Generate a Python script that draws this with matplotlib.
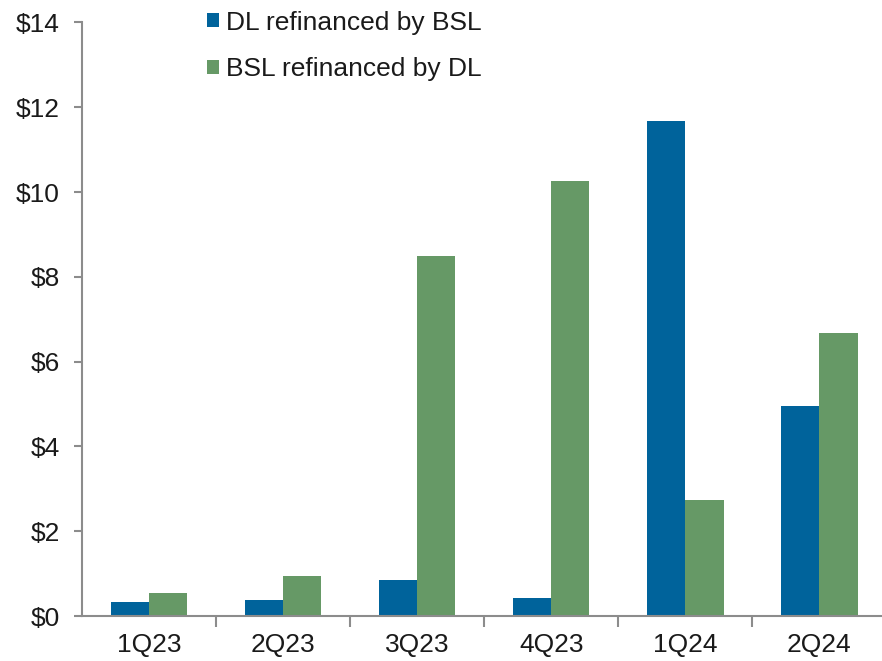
import numpy as np
import matplotlib
matplotlib.use("Agg")
import matplotlib.pyplot as plt
from matplotlib.patches import Patch

plt.rcParams['font.family'] = ['Liberation Sans', 'DejaVu Sans']

# Quarterly refinancing volumes ($bn)
quarters = ['1Q23', '2Q23', '3Q23', '4Q23', '1Q24', '2Q24']
dl_by_bsl = [0.32, 0.38, 0.85, 0.42, 11.67, 4.95]
bsl_by_dl = [0.55, 0.94, 8.49, 10.26, 2.74, 6.67]
series_names = ['DL refinanced by BSL', 'BSL refinanced by DL']

blue = '#00639B'
green = '#669966'
axis_gray = '#8c8c8c'
text_col = '#1a1a1a'

fig = plt.figure(figsize=(8.82, 6.61), dpi=100)
ax = fig.add_axes([0.093, 0.068, 0.912, 0.898])

x = np.arange(len(quarters))
w = 0.285
ax.bar(x - w / 2, dl_by_bsl, width=w, color=blue, linewidth=0)
ax.bar(x + w / 2, bsl_by_dl, width=w, color=green, linewidth=0)

ax.set_xlim(-0.5, len(quarters) - 0.5)
ax.set_ylim(0, 14)
ax.set_yticks(np.arange(0, 15, 2))
ax.set_yticklabels([f'${v}' for v in range(0, 15, 2)])

# category labels centred, tick marks sit between the groups
ax.set_xticks(x)
ax.set_xticklabels(quarters)
ax.set_xticks(np.arange(0.5, len(quarters) - 0.5, 1), minor=True)
ax.tick_params(axis='x', which='major', length=0, pad=12)
ax.tick_params(axis='x', which='minor', length=8, width=1.5, color=axis_gray)
ax.tick_params(axis='y', length=6, width=1.5, color=axis_gray, pad=10)
ax.tick_params(labelsize=19, labelcolor=text_col)

for side in ['top', 'right']:
    ax.spines[side].set_visible(False)
for side in ['left', 'bottom']:
    ax.spines[side].set_color(axis_gray)
    ax.spines[side].set_linewidth(1.5)

handles = [Patch(facecolor=blue), Patch(facecolor=green)]
ax.legend(handles, series_names, loc='upper left', bbox_to_anchor=(0.126, 1.06),
          frameon=False, fontsize=19, handlelength=0.45, handleheight=0.45,
          handletextpad=0.25, labelspacing=0.85, labelcolor=text_col)

fig.savefig('out.png', dpi=100)
